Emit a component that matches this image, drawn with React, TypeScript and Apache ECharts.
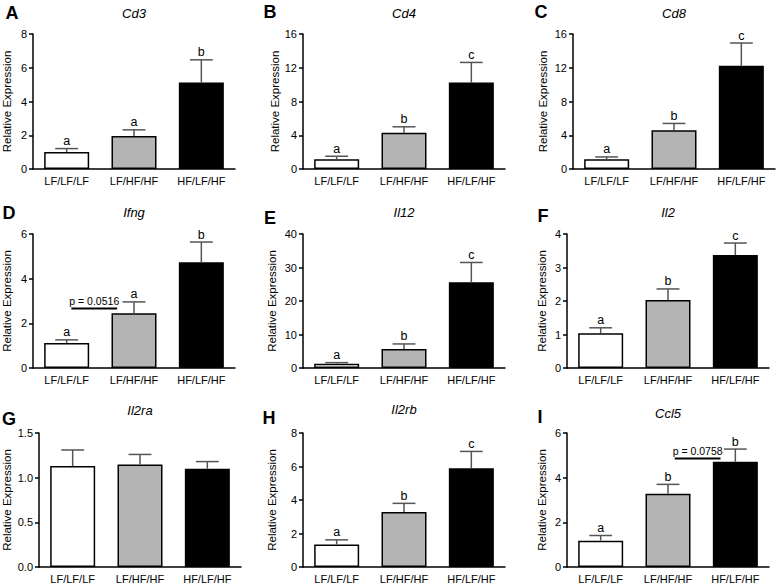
import React, { useEffect, useRef } from "react";
import * as echarts from "echarts";

const FONT = "'Liberation Sans', Arial, Helvetica, sans-serif";

const categories = ["LF/LF/LF", "LF/HF/HF", "HF/LF/HF"];
const barColors = ["#ffffff", "#b4b4b4", "#000000"];

const panelLetters = ["A", "B", "C", "D", "E", "F", "G", "H", "I"];
const geneNames = ["Cd3", "Cd4", "Cd8", "Ifng", "Il12", "Il2", "Il2ra", "Il2rb", "Ccl5"];

const cd3Means = [1.01, 1.95, 5.12];
const cd3Sems = [0.2, 0.37, 1.35];
const cd3Letters = ["a", "a", "b"];

const cd4Means = [1.15, 4.29, 10.24];
const cd4Sems = [0.36, 0.71, 2.39];
const cd4Letters = ["a", "b", "c"];

const cd8Means = [1.15, 4.6, 12.23];
const cd8Sems = [0.28, 0.8, 2.7];
const cd8Letters = ["a", "b", "c"];

const ifngMeans = [1.12, 2.45, 4.74];
const ifngSems = [0.14, 0.51, 0.9];
const ifngLetters = ["a", "a", "b"];

const il12Means = [1.3, 5.69, 25.6];
const il12Sems = [0.3, 1.49, 5.9];
const il12Letters = ["a", "b", "c"];

const il2Means = [1.04, 2.03, 3.37];
const il2Sems = [0.16, 0.33, 0.36];
const il2Letters = ["a", "b", "c"];

const il2raMeans = [1.13, 1.146, 1.1];
const il2raSems = [0.18, 0.114, 0.08];
const il2raLetters = ["", "", ""];

const il2rbMeans = [1.34, 3.28, 5.9];
const il2rbSems = [0.28, 0.52, 1.0];
const il2rbLetters = ["a", "b", "c"];

const ccl5Means = [1.18, 3.28, 4.71];
const ccl5Sems = [0.23, 0.42, 0.57];
const ccl5Letters = ["a", "b", "b"];

const yMaxes = [8, 16, 16, 6, 40, 4, 1.5, 8, 6];
const yIntervals = [2, 4, 4, 2, 10, 1, 0.5, 2, 2];

// p-value annotations: [category position from, to, value]
const ifngNote = { text: "p = 0.0516", from: 0.07, to: 0.75, value: 2.66 };
const ccl5Note = { text: "p = 0.0758", from: 1.1, to: 1.78, value: 4.86 };

const allMeans = [cd3Means, cd4Means, cd8Means, ifngMeans, il12Means, il2Means, il2raMeans, il2rbMeans, ccl5Means];
const allSems = [cd3Sems, cd4Sems, cd8Sems, ifngSems, il12Sems, il2Sems, il2raSems, il2rbSems, ccl5Sems];
const allLetters = [cd3Letters, cd4Letters, cd8Letters, ifngLetters, il12Letters, il2Letters, il2raLetters, il2rbLetters, ccl5Letters];
const allNotes: any[] = [null, null, null, ifngNote, null, null, null, null, ccl5Note];

// layout
const gridLefts = [33, 303, 573, 33, 303, 567, 39, 303, 567];
const rowTops = [34, 234, 433];
const rowHeights = [135, 134, 134];
const gridWidth = 202;
const nameGaps = [20, 11, 24, 20, 25, 19, 26, 25, 19];
const letterPos = [
  [12, 13], [270, 12], [541, 12],
  [9, 213], [270, 218], [543, 216],
  [9, 419], [269, 418], [540, 417],
];
const titleY = [13, 13, 13, 212, 212, 212, 410, 409, 413];

function buildOption() {
  const grid: any[] = [];
  const xAxis: any[] = [];
  const yAxis: any[] = [];
  const series: any[] = [];
  const graphic: any[] = [];

  for (let i = 0; i < 9; i++) {
    const row = Math.floor(i / 3);
    grid.push({ left: gridLefts[i], top: rowTops[row], width: gridWidth, height: rowHeights[row] });
    xAxis.push({
      type: "category",
      gridIndex: i,
      data: categories,
      axisLine: { lineStyle: { color: "#000", width: 1.5 } },
      axisTick: { alignWithLabel: true, length: 4, lineStyle: { color: "#000", width: 1.5 } },
      axisLabel: { color: "#000", fontSize: 11, fontFamily: FONT, margin: 6 },
    });
    yAxis.push({
      type: "value",
      gridIndex: i,
      min: 0,
      max: yMaxes[i],
      interval: yIntervals[i],
      axisLine: { show: true, lineStyle: { color: "#000", width: 1.5 } },
      axisTick: { show: true, length: 4, lineStyle: { color: "#000", width: 1.5 } },
      splitLine: { show: false },
      axisLabel: {
        color: "#000",
        fontSize: 11,
        fontFamily: FONT,
        margin: 6,
        formatter: yIntervals[i] < 1 ? (v: number) => v.toFixed(1) : (v: number) => String(v),
      },
      name: "Relative Expression",
      nameLocation: "middle",
      nameGap: nameGaps[i],
      nameTextStyle: { color: "#000", fontSize: 11.5, fontFamily: FONT },
    });

    const means = allMeans[i];
    const sems = allSems[i];
    const letters = allLetters[i];

    series.push({
      type: "bar",
      xAxisIndex: i,
      yAxisIndex: i,
      barWidth: 45,
      data: means.map((v, j) => ({ value: v, itemStyle: { color: barColors[j] } })),
      itemStyle: { borderColor: "#000", borderWidth: 1.5 },
      z: 2,
    });

    series.push({
      type: "custom",
      xAxisIndex: i,
      yAxisIndex: i,
      z: 3,
      data: means.map((v, j) => [j, v, sems[j]]),
      renderItem: (params: any, api: any) => {
        const idx = api.value(0);
        const m = api.value(1);
        const s = api.value(2);
        const p0 = api.coord([idx, m]);
        const p1 = api.coord([idx, m + s]);
        const half = api.size([1, 0])[0] * 0.17;
        const letter = letters[params.dataIndex];
        const children: any[] = [
          { type: "line", shape: { x1: p0[0], y1: p0[1], x2: p1[0], y2: p1[1] }, style: { stroke: "#555", lineWidth: 1.5 } },
          { type: "line", shape: { x1: p1[0] - half, y1: p1[1], x2: p1[0] + half, y2: p1[1] }, style: { stroke: "#555", lineWidth: 1.5 } },
        ];
        if (letter) {
          children.push({
            type: "text",
            style: {
              text: letter,
              x: p1[0],
              y: p1[1] - 1,
              textAlign: "center",
              textVerticalAlign: "bottom",
              fontSize: 12.5,
              fontFamily: FONT,
              fill: "#000",
            },
          });
        }
        return { type: "group", children };
      },
    });

    const note = allNotes[i];
    if (note) {
      series.push({
        type: "custom",
        xAxisIndex: i,
        yAxisIndex: i,
        z: 4,
        data: [[0, note.value]],
        renderItem: (params: any, api: any) => {
          const a = api.coord([0, note.value]);
          const b = api.coord([1, note.value]);
          const step = b[0] - a[0];
          const x1 = a[0] + step * note.from;
          const x2 = a[0] + step * note.to;
          return {
            type: "group",
            children: [
              { type: "line", shape: { x1, y1: a[1], x2, y2: a[1] }, style: { stroke: "#000", lineWidth: 2 } },
              {
                type: "text",
                style: {
                  text: note.text,
                  x: (x1 + x2) / 2,
                  y: a[1] - 2,
                  textAlign: "center",
                  textVerticalAlign: "bottom",
                  fontSize: 10.5,
                  fontFamily: FONT,
                  fill: "#000",
                },
              },
            ],
          };
        },
      });
    }

    graphic.push({
      type: "text",
      x: letterPos[i][0],
      y: letterPos[i][1],
      style: {
        text: panelLetters[i],
        textAlign: "center",
        textVerticalAlign: "middle",
        fontSize: 18,
        fontWeight: "bold",
        fontFamily: FONT,
        fill: "#000",
      },
    });
    graphic.push({
      type: "text",
      x: gridLefts[i] + gridWidth / 2,
      y: titleY[i],
      style: {
        text: geneNames[i],
        textAlign: "center",
        textVerticalAlign: "middle",
        fontSize: 13,
        fontStyle: "italic",
        fontFamily: FONT,
        fill: "#000",
      },
    });
  }

  return {
    animation: false,
    backgroundColor: "#ffffff",
    grid,
    xAxis,
    yAxis,
    series,
    graphic,
  };
}

export default function App() {
  const ref = useRef<HTMLDivElement | null>(null);
  useEffect(() => {
    if (!ref.current) return;
    const chart = echarts.init(ref.current, undefined, { renderer: "svg" });
    chart.setOption(buildOption() as any);
    return () => chart.dispose();
  }, []);
  return (
    <div
      ref={ref}
      style={{ position: "absolute", left: 0, top: 0, width: 777, height: 584, background: "#fff" }}
    />
  );
}
